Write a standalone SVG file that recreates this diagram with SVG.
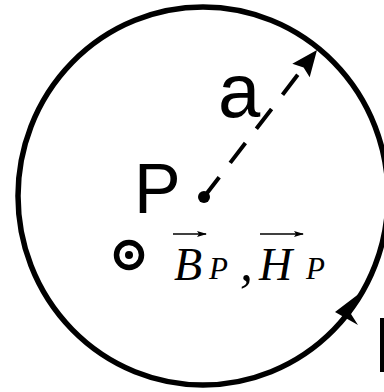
<svg xmlns="http://www.w3.org/2000/svg" width="384" height="392" viewBox="0 0 384 392">
<style>
.lbl{font-family:"Liberation Sans",Arial,sans-serif;fill:#000}
.mth{font-family:"Liberation Serif","Times New Roman",serif;font-style:italic;fill:#000}
.vec{stroke:#000;stroke-width:1.5;fill:none}
</style>
<defs>
<marker id="va" viewBox="0 0 10 6" refX="9" refY="3" markerWidth="10" markerHeight="6" markerUnits="userSpaceOnUse" orient="auto">
<path d="M0,0 L10,3 L0,6 L2,3 Z" fill="#000"/>
</marker>
</defs>
<rect width="384" height="392" fill="#fff"/>
<g id="loop">
<ellipse cx="203" cy="196" rx="185" ry="189" fill="none" stroke="#000" stroke-width="5.5"/>
<polygon points="360,293 351,314 358,325 346.5,318.5 335,312" fill="#000"/>
</g>
<g id="bar"><rect x="380" y="318" width="5" height="54" fill="#000"/></g>
<g id="connectors">
<line x1="204" y1="197" x2="303" y2="68" stroke="#000" stroke-width="4" stroke-dasharray="25 18"/>
<polygon points="317,50 309.7,77.2 303.6,67.4 292.3,63.8" fill="#000"/>
</g>
<g id="pointP">
<circle cx="204" cy="197" r="6" fill="#000"/>
<text class="lbl" x="134" y="213" font-size="70">P</text>
</g>
<g id="radius-label"><text class="lbl" x="218" y="117" font-size="76">a</text></g>
<g id="field">
<circle cx="129" cy="255" r="12.5" fill="none" stroke="#000" stroke-width="5.5"/>
<circle cx="129" cy="255" r="4" fill="#000"/>
<line class="vec" x1="173" y1="234" x2="206" y2="234" marker-end="url(#va)"/>
<line class="vec" x1="260" y1="234" x2="303" y2="234" marker-end="url(#va)"/>
<text class="mth" x="174" y="280" font-size="46">B</text>
<text class="mth" x="209" y="279" font-size="31">P</text>
<text class="mth" x="240" y="280" font-size="52" font-style="normal">,</text>
<text class="mth" x="259" y="280" font-size="46">H</text>
<text class="mth" x="306" y="279" font-size="31">P</text>
</g>
</svg>
